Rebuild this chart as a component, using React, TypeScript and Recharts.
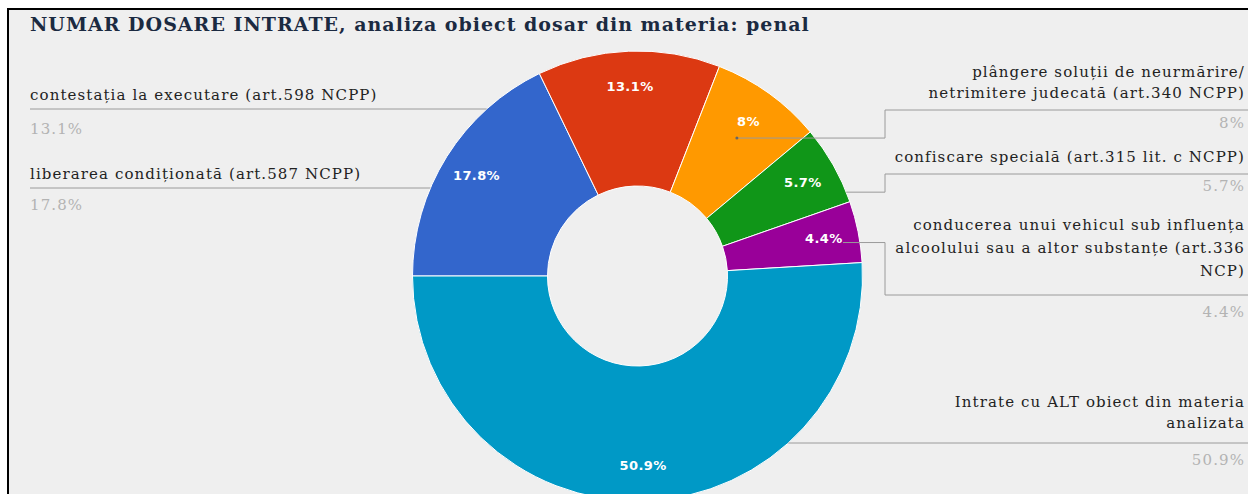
import React from 'react';
import { PieChart, Pie, Cell } from 'recharts';

// ---- data ----
const title = 'NUMAR DOSARE INTRATE, analiza obiect dosar din materia: penal';
const categories = [
  'liberarea condiționată (art.587 NCPP)',
  'contestația la executare (art.598 NCPP)',
  'plângere soluții de neurmărire/\nnetrimitere judecată (art.340 NCPP)',
  'confiscare specială (art.315 lit. c NCPP)',
  'conducerea unui vehicul sub influența\nalcoolului sau a altor substanțe (art.336\nNCP)',
  'Intrate cu ALT obiect din materia\nanalizata',
];
const shares = [17.8, 13.1, 8, 5.7, 4.4, 50.9];
const colors = ['#3366cc', '#dc3912', '#ff9900', '#109618', '#990099', '#0099c6'];

const data = categories.map((name, i) => ({ name, value: shares[i] }));

// ---- label layout (styling only) ----
type Layout = {
  side: 'left' | 'right';
  elbow: boolean;
  textY: number[];
  lineY: number;
  pctY: number;
  dot?: boolean;
  inset?: number;
};
const layout: Layout[] = [
  { side: 'left', elbow: false, textY: [164], lineY: 178, pctY: 195 },
  { side: 'left', elbow: false, textY: [85], lineY: 99, pctY: 119 },
  { side: 'right', elbow: true, textY: [62, 83], lineY: 100, pctY: 113, dot: true },
  { side: 'right', elbow: true, textY: [147], lineY: 164, pctY: 176, inset: 0 },
  { side: 'right', elbow: true, textY: [215, 238, 261], lineY: 285, pctY: 302, inset: 17 },
  { side: 'right', elbow: false, textY: [392, 413], lineY: 433, pctY: 450 },
];

const W = 1239;
const H = 484;
const CX = 628.5;
const CY = 266;
const R_OUT = 225;
const R_IN = 90;
const LEFT_X = 21;
const RIGHT_TEXT_X = 1236;
const ELBOW_X = 876;
const ANCHOR_R = 170;
const INNER_LABEL_R = 190;
const RAD = Math.PI / 180;
const FONT = '"DejaVu Serif", serif';
const LINE_COLOR = '#9a9a9a';

const fmt = (v: number) => `${v}%`;

const renderLabel = (props: any) => {
  const { cx, cy, midAngle, outerRadius, index, value } = props;
  const lay = layout[index];
  const cos = Math.cos(-midAngle * RAD);
  const sin = Math.sin(-midAngle * RAD);
  const ix = cx + INNER_LABEL_R * cos;
  const iy = cy + INNER_LABEL_R * sin;
  const edgeX = (y: number) => Math.sqrt(Math.max(0, outerRadius * outerRadius - (y - cy) * (y - cy)));
  const lines = categories[index].split('\n');
  const elems: React.ReactNode[] = [];

  if (lay.side === 'left') {
    elems.push(
      <line key="l" x1={LEFT_X} y1={lay.lineY} x2={cx - edgeX(lay.lineY)} y2={lay.lineY} stroke={LINE_COLOR} strokeWidth={1} />
    );
  } else if (!lay.elbow) {
    elems.push(
      <line key="l" x1={cx + edgeX(lay.lineY)} y1={lay.lineY} x2={W} y2={lay.lineY} stroke={LINE_COLOR} strokeWidth={1} />
    );
  } else {
    const ax = cx + ANCHOR_R * cos;
    const ay = cy + ANCHOR_R * sin;
    const startX = lay.dot ? ax : cx + edgeX(ay) - (lay.inset || 0);
    elems.push(
      <polyline
        key="l"
        points={`${startX},${ay} ${ELBOW_X},${ay} ${ELBOW_X},${lay.lineY} ${W},${lay.lineY}`}
        fill="none"
        stroke={LINE_COLOR}
        strokeWidth={1}
      />
    );
    if (lay.dot) elems.push(<circle key="d" cx={ax} cy={ay} r={1.5} fill="#666" />);
  }

  const tx = lay.side === 'left' ? LEFT_X : RIGHT_TEXT_X;
  const anchor = lay.side === 'left' ? 'start' : 'end';
  lines.forEach((t, k) => {
    elems.push(
      <text key={`t${k}`} x={tx} y={lay.textY[k]} textAnchor={anchor} dominantBaseline="central" fontFamily={FONT} fontSize={15} letterSpacing={1.1} fill="#222">
        {t}
      </text>
    );
  });
  elems.push(
    <text key="p" x={tx} y={lay.pctY} textAnchor={anchor} dominantBaseline="central" fontFamily={FONT} fontSize={15} letterSpacing={1.1} fill="#b3b3b3">
      {fmt(value)}
    </text>
  );
  elems.push(
    <text key="in" x={ix} y={iy} textAnchor="middle" dominantBaseline="central" fontFamily='"DejaVu Sans", sans-serif' fontWeight="bold" fontSize={13} letterSpacing={0.4} fill="#ffffff">
      {fmt(value)}
    </text>
  );
  return <g>{elems}</g>;
};

export default function App() {
  return (
    <div
      style={{
        position: 'fixed',
        left: 7,
        top: 8,
        width: 1241,
        height: 486,
        borderLeft: '2px solid #000',
        borderTop: '2px solid #000',
        background: '#efefef',
        boxSizing: 'border-box',
        overflow: 'hidden',
      }}
    >
      <PieChart width={W} height={H} margin={{ top: 0, right: 0, bottom: 0, left: 0 }} style={{ display: 'block' }}>
        <text x={21} y={21} fontFamily={FONT} fontWeight="bold" fontSize={19} letterSpacing={1} fill="#1b2a41">
          {title}
        </text>
        <Pie
          data={data}
          dataKey="value"
          nameKey="name"
          cx={CX}
          cy={CY}
          innerRadius={R_IN}
          outerRadius={R_OUT}
          startAngle={180}
          endAngle={-180}
          stroke="#ffffff"
          strokeWidth={1}
          isAnimationActive={false}
          labelLine={false}
          label={renderLabel}
        >
          {data.map((d, i) => (
            <Cell key={d.name} fill={colors[i]} />
          ))}
        </Pie>
      </PieChart>
    </div>
  );
}
